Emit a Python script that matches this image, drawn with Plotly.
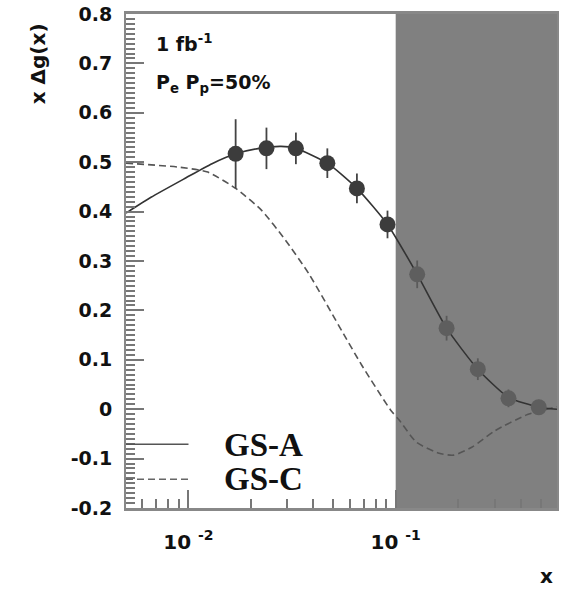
import numpy as np
import plotly.graph_objects as go

# ---- data ----
x_pts = [0.0169, 0.0238, 0.0330, 0.0468, 0.0650, 0.0913, 0.127, 0.176, 0.249, 0.350, 0.490]
y_pts = [0.517, 0.528, 0.528, 0.498, 0.447, 0.374, 0.273, 0.164, 0.081, 0.022, 0.004]
y_err = [0.070, 0.042, 0.032, 0.030, 0.030, 0.028, 0.028, 0.025, 0.022, 0.018, 0.015]

gsa_x = [0.005, 0.0066, 0.0097, 0.013, 0.0169, 0.022, 0.028, 0.033, 0.0468, 0.065, 0.0913,
         0.127, 0.176, 0.249, 0.350, 0.490, 0.6]
gsa_y = [0.397, 0.429, 0.468, 0.497, 0.517, 0.528, 0.532, 0.528, 0.498, 0.447, 0.374,
         0.273, 0.164, 0.081, 0.024, 0.004, 0.0]

gsc_x = [0.005, 0.009, 0.0124, 0.0169, 0.0225, 0.0294, 0.038, 0.0561, 0.0686, 0.0946, 0.104,
         0.126, 0.162, 0.19, 0.233, 0.303, 0.425, 0.49, 0.6]
gsc_y = [0.498, 0.49, 0.48, 0.447, 0.403, 0.342, 0.275, 0.152, 0.089, -0.002, -0.022,
         -0.067, -0.089, -0.093, -0.077, -0.043, -0.012, -0.004, 0.005]

x_ticks = [0.01, 0.1]
x_ticktext = ["10 <sup>-2</sup>", "10 <sup>-1</sup>"]
y_ticks = [-0.2, -0.1, 0.0, 0.1, 0.2, 0.3, 0.4, 0.5, 0.6, 0.7, 0.8]
y_ticktext = ["-0.2", "-0.1", "0", "0.1", "0.2", "0.3", "0.4", "0.5", "0.6", "0.7", "0.8"]
shade_x = [0.1, 0.6]
x_range = [0.005, 0.6]
y_range = [-0.2, 0.8]

FONT = "DejaVu Sans"

xs = np.array(x_pts)
ys = np.array(y_pts)
es = np.array(y_err)
inside = xs < shade_x[0]

fig = go.Figure()
fig.add_trace(go.Scatter(x=gsc_x, y=gsc_y, mode="lines", line=dict(color="#555555", width=1.6, dash="7px,4px", shape="spline", smoothing=0.6), showlegend=False))
fig.add_trace(go.Scatter(x=gsa_x, y=gsa_y, mode="lines", line=dict(color="#333333", width=1.6, shape="spline", smoothing=0.6), showlegend=False))
fig.add_trace(go.Scatter(x=xs[inside], y=ys[inside], mode="markers",
                         error_y=dict(type="data", array=es[inside], color="#444444", thickness=1.8, width=0),
                         marker=dict(size=16, color="#3c3c3c"), showlegend=False))
fig.add_trace(go.Scatter(x=xs[~inside], y=ys[~inside], mode="markers",
                         error_y=dict(type="data", array=es[~inside], color="#5a5a5a", thickness=1.8, width=0),
                         marker=dict(size=16, color="#5e5e5e"), showlegend=False))

fig.add_shape(type="rect", xref="x", yref="paper", x0=shade_x[0], x1=shade_x[1], y0=0, y1=1,
              fillcolor="#808080", line=dict(width=0), layer="below")

# legend samples
fig.add_shape(type="line", xref="paper", yref="y", x0=0, x1=0.145, y0=-0.071, y1=-0.071,
              line=dict(color="#555555", width=1.5))
fig.add_shape(type="line", xref="paper", yref="y", x0=0, x1=0.145, y0=-0.142, y1=-0.142,
              line=dict(color="#666666", width=1.5, dash="7px,4px"))
fig.add_annotation(text="GS-A", xref="paper", yref="y", x=0.222, y=-0.072, xanchor="left", yanchor="middle",
                   showarrow=False, font=dict(family="Liberation Serif", size=33, color="#111", weight="bold"))
fig.add_annotation(text="GS-C", xref="paper", yref="y", x=0.222, y=-0.142, xanchor="left", yanchor="middle",
                   showarrow=False, font=dict(family="Liberation Serif", size=33, color="#111", weight="bold"))

fig.add_annotation(text="1 fb<sup>-1</sup>", xref="paper", yref="paper", x=0.066, y=0.941, xanchor="left", yanchor="middle",
                   showarrow=False, font=dict(family=FONT, size=19, color="#111", weight="bold"))
fig.add_annotation(text="P<sub>e</sub> P<sub>p</sub>=50%", xref="paper", yref="paper", x=0.066, y=0.860, xanchor="left", yanchor="middle",
                   showarrow=False, font=dict(family=FONT, size=19, color="#111", weight="bold"))
fig.add_annotation(text="x \u0394g(x)", xref="paper", yref="paper", x=-0.2055, y=0.899, xanchor="center", yanchor="middle",
                   textangle=-90, showarrow=False, font=dict(family=FONT, size=20, color="#111", weight="bold"))
fig.add_annotation(text="x", xref="paper", yref="paper", x=0.975, y=-0.138, xanchor="center", yanchor="middle",
                   showarrow=False, font=dict(family=FONT, size=20, color="#111", weight="bold"))

minor_x = [m * 10.0 ** e for e in (-3, -2, -1) for m in range(2, 10) if x_range[0] <= m * 10.0 ** e <= x_range[1]]

fig.update_xaxes(type="log", range=[np.log10(x_range[0]), np.log10(x_range[1])],
                 tickmode="array", tickvals=x_ticks, ticktext=x_ticktext,
                 ticks="inside", ticklen=18, tickwidth=1.5, tickcolor="#777777",
                 minor=dict(tickmode="array", tickvals=minor_x, ticks="inside", ticklen=9, tickwidth=1.5, tickcolor="#777777"),
                 showgrid=False, zeroline=False, showline=True, linecolor="#888888", linewidth=2.5, mirror=True,
                 ticklabelstandoff=14,
                 tickfont=dict(family=FONT, size=20, color="#111", weight="bold"))
fig.update_yaxes(range=y_range, tickmode="array", tickvals=y_ticks, ticktext=y_ticktext,
                 ticks="inside", ticklen=18, tickwidth=1.5, tickcolor="#777777",
                 minor=dict(dtick=0.01, tick0=0, ticks="inside", ticklen=9, tickwidth=1.5, tickcolor="#777777"),
                 showgrid=False, zeroline=False, showline=True, linecolor="#888888", linewidth=2, mirror=True,
                 ticklabelstandoff=8,
                 tickfont=dict(family=FONT, size=19, color="#111", weight="bold"))

fig.update_layout(width=562, height=591, margin=dict(l=126, r=3, t=14, b=83),
                  plot_bgcolor="white", paper_bgcolor="white", showlegend=False)

fig.write_html("out.html")
